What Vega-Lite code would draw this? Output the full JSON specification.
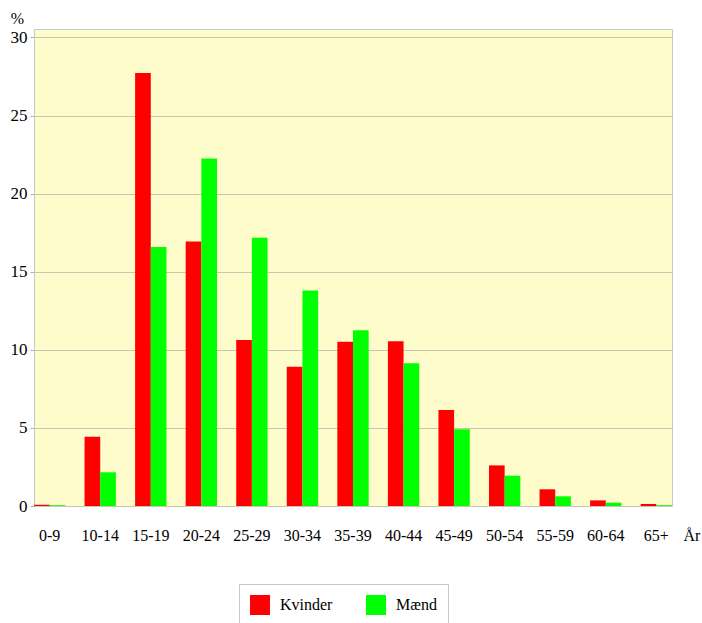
{
  "$schema": "https://vega.github.io/schema/vega-lite/v6.json",
  "width": 638,
  "height": 477,
  "autosize": {"type": "none"},
  "padding": {"left": 34, "top": 29, "right": 30, "bottom": 117},
  "background": "white",
  "config": {
    "view": {"fill": "#FFFCCC", "stroke": "#c8c8c8", "strokeWidth": 1},
    "font": "Liberation Serif",
    "axis": {"labelFont": "Liberation Serif", "titleFont": "Liberation Serif"},
    "legend": {"labelFont": "Liberation Serif", "titleFont": "Liberation Serif"}
  },
  "data": {
    "values": [
      {"age": "0-9", "sex": "Kvinder", "pct": 0.08},
      {"age": "0-9", "sex": "Mænd", "pct": 0.05},
      {"age": "10-14", "sex": "Kvinder", "pct": 4.44},
      {"age": "10-14", "sex": "Mænd", "pct": 2.16},
      {"age": "15-19", "sex": "Kvinder", "pct": 27.72},
      {"age": "15-19", "sex": "Mænd", "pct": 16.59},
      {"age": "20-24", "sex": "Kvinder", "pct": 16.93},
      {"age": "20-24", "sex": "Mænd", "pct": 22.25},
      {"age": "25-29", "sex": "Kvinder", "pct": 10.63},
      {"age": "25-29", "sex": "Mænd", "pct": 17.17},
      {"age": "30-34", "sex": "Kvinder", "pct": 8.92},
      {"age": "30-34", "sex": "Mænd", "pct": 13.79},
      {"age": "35-39", "sex": "Kvinder", "pct": 10.51},
      {"age": "35-39", "sex": "Mænd", "pct": 11.25},
      {"age": "40-44", "sex": "Kvinder", "pct": 10.55},
      {"age": "40-44", "sex": "Mænd", "pct": 9.14},
      {"age": "45-49", "sex": "Kvinder", "pct": 6.15},
      {"age": "45-49", "sex": "Mænd", "pct": 4.91},
      {"age": "50-54", "sex": "Kvinder", "pct": 2.6},
      {"age": "50-54", "sex": "Mænd", "pct": 1.94},
      {"age": "55-59", "sex": "Kvinder", "pct": 1.07},
      {"age": "55-59", "sex": "Mænd", "pct": 0.62},
      {"age": "60-64", "sex": "Kvinder", "pct": 0.36},
      {"age": "60-64", "sex": "Mænd", "pct": 0.21},
      {"age": "65+", "sex": "Kvinder", "pct": 0.13},
      {"age": "65+", "sex": "Mænd", "pct": 0.05}
    ]
  },
  "mark": {"type": "bar"},
  "encoding": {
    "x": {
      "field": "age",
      "type": "nominal",
      "sort": null,
      "scale": {"paddingInner": 0.38, "paddingOuter": 0},
      "axis": {
        "title": "År",
        "titleX": 649,
        "titleY": 21,
        "titleAlign": "left",
        "titleBaseline": "top",
        "titleFontSize": 16,
        "titleFontWeight": "normal",
        "titleColor": "black",
        "labelAngle": 0,
        "labelFontSize": 16,
        "labelColor": "black",
        "labelPadding": 21,
        "ticks": false,
        "tickSize": 0,
        "domain": false
      }
    },
    "xOffset": {"field": "sex", "type": "nominal", "sort": ["Kvinder", "Mænd"]},
    "y": {
      "field": "pct",
      "type": "quantitative",
      "scale": {"domain": [0, 30.54], "nice": false, "zero": true},
      "axis": {
        "values": [0, 5, 10, 15, 20, 25, 30],
        "title": "%",
        "titleAngle": 0,
        "titleX": -17,
        "titleY": -11,
        "titleAlign": "center",
        "titleBaseline": "middle",
        "titleFontSize": 16,
        "titleFontWeight": "normal",
        "titleColor": "black",
        "labelFontSize": 17,
        "labelColor": "black",
        "labelPadding": 3,
        "tickSize": 4,
        "tickColor": "#b0b0b0",
        "domain": false,
        "grid": true,
        "gridColor": "#c8c6b0",
        "gridWidth": 1
      }
    },
    "color": {
      "field": "sex",
      "type": "nominal",
      "sort": ["Kvinder", "Mænd"],
      "scale": {"domain": ["Kvinder", "Mænd"], "range": ["#FF0000", "#00FF00"]},
      "legend": {
        "title": null,
        "orient": "none",
        "legendX": 205,
        "legendY": 555,
        "direction": "horizontal",
        "symbolType": "square",
        "symbolSize": 400,
        "symbolStrokeWidth": 0,
        "symbolOpacity": 1,
        "labelFontSize": 16,
        "labelColor": "black",
        "labelOffset": 10,
        "columnPadding": 33,
        "padding": 11,
        "strokeColor": "#c8c8c8",
        "fillColor": "white"
      }
    }
  }
}
